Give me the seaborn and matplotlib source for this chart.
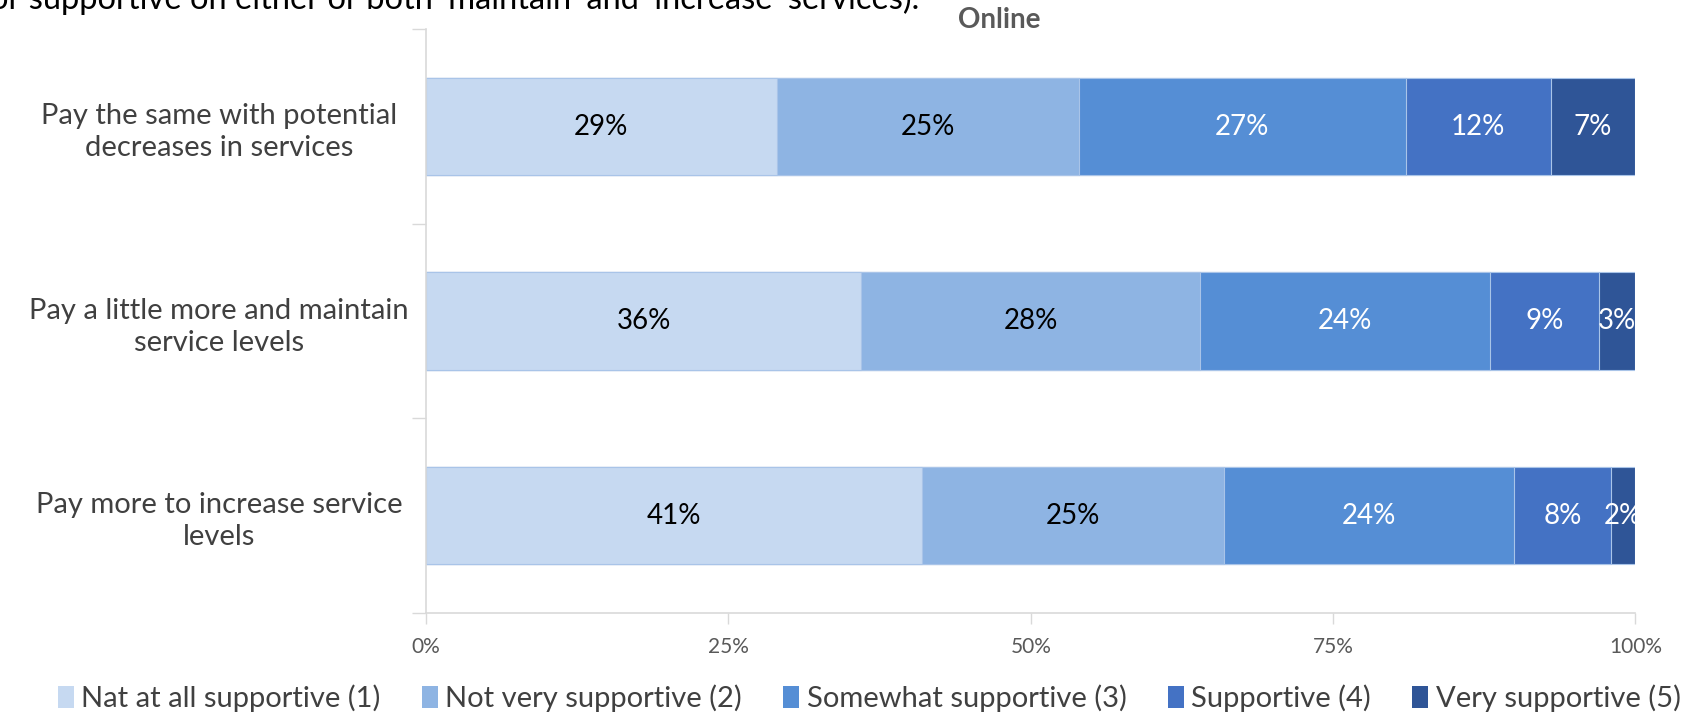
import matplotlib
matplotlib.use("Agg")
import matplotlib.pyplot as plt
from matplotlib.patches import Patch
from matplotlib.ticker import FixedLocator, PercentFormatter
import numpy as np
import pandas as pd
import seaborn as sns

# Survey responses (percent of respondents), one list per support level
options = [
    "Pay the same with potential\ndecreases in services",
    "Pay a little more and maintain\nservice levels",
    "Pay more to increase service\nlevels",
]
levels = [
    "Nat at all supportive (1)",
    "Not very supportive (2)",
    "Somewhat supportive (3)",
    "Supportive (4)",
    "Very supportive (5)",
]
level1 = [29, 36, 41]
level2 = [25, 28, 25]
level3 = [27, 24, 24]
level4 = [12, 9, 8]
level5 = [7, 3, 2]
x_ticks = [0, 25, 50, 75, 100]

colors = ["#C6D9F1", "#8EB4E3", "#558ED5", "#4472C4", "#2F5597"]
label_colors = ["#000000", "#000000", "#FFFFFF", "#FFFFFF", "#FFFFFF"]

sns.set_theme(style="white")
plt.rcParams["font.family"] = ["Lato", "DejaVu Sans"]

series = [level1, level2, level3, level4, level5]
values = np.array(series, dtype=float)
cum = np.cumsum(values, axis=0)

df = pd.DataFrame({"option": options})
for i, lv in enumerate(levels):
    df[lv] = cum[i]

fig = plt.figure(figsize=(16.86, 7.14), dpi=100)
ax = fig.add_axes([0.2527, 0.1415, 0.7173, 0.8175])

# Stacked bars: draw cumulative totals from the largest down
for i in range(len(levels) - 1, -1, -1):
    sns.barplot(data=df, x=levels[i], y="option", orient="h", color=colors[i],
                width=0.5, edgecolor="#A9C4E8", linewidth=0.8, saturation=1,
                ax=ax)

# Value labels at segment centres
for i in range(len(levels)):
    for j in range(len(options)):
        v = values[i, j]
        ax.text(cum[i, j] - v / 2, j, f"{int(v)}%", ha="center", va="center",
                fontsize=20, color=label_colors[i])

ax.set_xlim(0, 100)
ax.set_ylim(2.5, -0.5)
ax.set_xlabel("")
ax.set_ylabel("")
ax.xaxis.set_major_locator(FixedLocator(x_ticks))
ax.xaxis.set_major_formatter(PercentFormatter(100, decimals=0))
ax.tick_params(axis="x", which="major", bottom=True, length=8, width=1,
               color="#D9D9D9", labelsize=15, labelcolor="#595959", pad=9)
ax.set_yticks(range(len(options)))
ax.set_yticklabels(options, ha="center", fontsize=21, color="#404040",
                   linespacing=1.3)
ax.tick_params(axis="y", which="major", left=False, pad=143)
ax.yaxis.set_minor_locator(FixedLocator([-0.5, 0.5, 1.5, 2.5]))
ax.tick_params(axis="y", which="minor", left=True, length=10, width=1,
               color="#D9D9D9")
for side in ["top", "right"]:
    ax.spines[side].set_visible(False)
for side in ["left", "bottom"]:
    ax.spines[side].set_color("#D9D9D9")
    ax.spines[side].set_linewidth(1.2)
ax.grid(False)

fig.text(999 / 1686, 1 - 20 / 714, "Online", ha="center", va="center",
         fontsize=20, fontweight="bold", color="#595959")
fig.text(-0.006, 1 - 9 / 714,
         "or supportive on either or both \u2018maintain\u2019 and \u2018increase\u2019 services).",
         ha="left", va="baseline", fontsize=23.5, color="#000000")

handles = [Patch(facecolor=c, edgecolor="none") for c in colors]
fig.legend(handles, levels, loc="center", bbox_to_anchor=(0.5155, 0.022),
           ncol=5, frameon=False, fontsize=21, handlelength=0.55,
           handleheight=0.75, handletextpad=0.25, columnspacing=1.42,
           labelcolor="#404040")

fig.savefig("out.png", dpi=100)
